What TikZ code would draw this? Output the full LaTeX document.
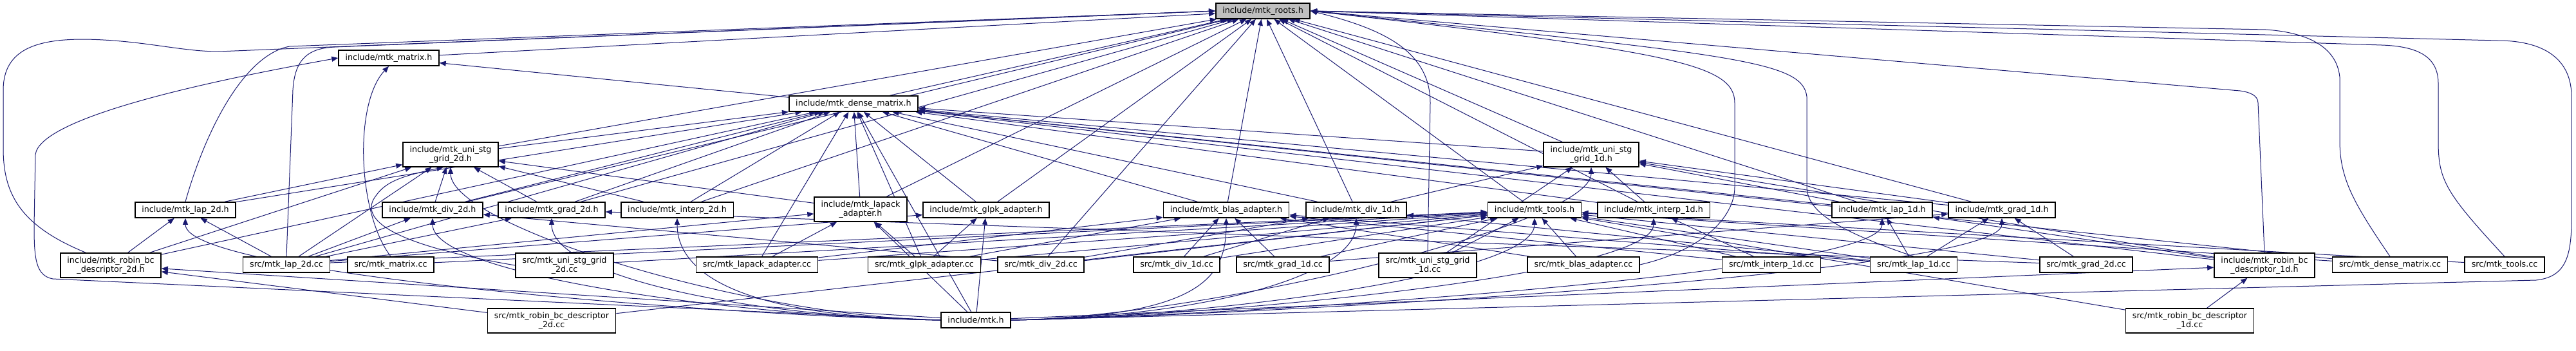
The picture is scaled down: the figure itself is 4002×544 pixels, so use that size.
\documentclass[tikz,border=0pt]{standalone}
\usepackage{fontspec}
\setmainfont{DejaVu Sans}
\usetikzlibrary{arrows.meta,backgrounds}
\definecolor{navy}{HTML}{191970}
\definecolor{rootgray}{HTML}{BFBFBF}

\begin{document}
\begin{tikzpicture}[
  x=1pt, y=-1pt,
  font=\fontsize{12.7}{14.5}\selectfont,
  >={Triangle[length=10pt,width=8pt]},
  file/.style={draw=black, fill=white, line width=1.6pt, inner xsep=10.5pt,
               inner ysep=0pt, minimum height=24pt, align=center},
  file2/.style={file, minimum height=38pt},
  rootfile/.style={file, fill=rootgray},
  dep/.style={->, draw=navy, line width=1pt},
]
\useasboundingbox (0,0) rectangle (4002,544);

% top of the graph
\node[rootfile] (roots) at (1962,17) {include/mtk\_roots.h};
\node[file] (matrix) at (604,90) {include/mtk\_matrix.h};
\node[file] (dense) at (1326,161) {include/mtk\_dense\_matrix.h};
\node[file2] (usg2d) at (700,240) {include/mtk\_uni\_stg\\\_grid\_2d.h};
\node[file2] (usg1d) at (2472,240) {include/mtk\_uni\_stg\\\_grid\_1d.h};

% header row
\node[file] (lap2dh) at (288,326) {include/mtk\_lap\_2d.h};
\node[file] (div2dh) at (672,326) {include/mtk\_div\_2d.h};
\node[file] (grad2dh) at (857,326) {include/mtk\_grad\_2d.h};
\node[file] (interp2dh) at (1052,326) {include/mtk\_interp\_2d.h};
\node[file2] (lapackh) at (1337,325) {include/mtk\_lapack\\\_adapter.h};
\node[file] (glpkh) at (1532,326) {include/mtk\_glpk\_adapter.h};
\node[file] (blash) at (1905,326) {include/mtk\_blas\_adapter.h};
\node[file] (div1dh) at (2107,326) {include/mtk\_div\_1d.h};
\node[file] (toolsh) at (2384,326) {include/mtk\_tools.h};
\node[file] (interp1dh) at (2569,326) {include/mtk\_interp\_1d.h};
\node[file] (lap1dh) at (2924,326) {include/mtk\_lap\_1d.h};
\node[file] (grad1dh) at (3110,326) {include/mtk\_grad\_1d.h};

% source row
\node[file2] (rb2dh) at (172,412) {include/mtk\_robin\_bc\\\_descriptor\_2d.h};
\node[file] (lap2dcc) at (445,411) {src/mtk\_lap\_2d.cc};
\node[file] (matrixcc) at (607,411) {src/mtk\_matrix.cc};
\node[file2] (usg2dcc) at (877,412) {src/mtk\_uni\_stg\_grid\\\_2d.cc};
\node[file] (lapackcc) at (1176,411) {src/mtk\_lapack\_adapter.cc};
\node[file] (glpkcc) at (1436,411) {src/mtk\_glpk\_adapter.cc};
\node[file] (div2dcc) at (1617,411) {src/mtk\_div\_2d.cc};
\node[file] (div1dcc) at (1828,411) {src/mtk\_div\_1d.cc};
\node[file] (grad1dcc) at (1993,411) {src/mtk\_grad\_1d.cc};
\node[file2] (usg1dcc) at (2218,412) {src/mtk\_uni\_stg\_grid\\\_1d.cc};
\node[file] (blascc) at (2460,411) {src/mtk\_blas\_adapter.cc};
\node[file] (interp1dcc) at (2752,411) {src/mtk\_interp\_1d.cc};
\node[file] (lap1dcc) at (2973,411) {src/mtk\_lap\_1d.cc};
\node[file] (grad2dcc) at (3241,411) {src/mtk\_grad\_2d.cc};
\node[file2] (rb1dh) at (3518,412) {include/mtk\_robin\_bc\\\_descriptor\_1d.h};
\node[file] (densecc) at (3713,411) {src/mtk\_dense\_matrix.cc};
\node[file] (toolscc) at (3891,411) {src/mtk\_tools.cc};

% bottom row
\node[file2] (rb2dcc) at (857,498) {src/mtk\_robin\_bc\_descriptor\\\_2d.cc};
\node[file] (mtkh) at (1516,497) {include/mtk.h};
\node[file2] (rb1dcc) at (3402,498) {src/mtk\_robin\_bc\_descriptor\\\_1d.cc};

\begin{scope}[on background layer]
% headers
\foreach \a in {matrix,dense,usg2d,usg1d,div2dh,grad2dh,interp2dh,lapackh,
                glpkh,blash,div1dh,toolsh,interp1dh,lap1dh,grad1dh,div2dcc}
  \draw[dep] (\a) -- (roots);
\foreach \a in {usg2d,usg1d,lap2dh,div2dh,grad2dh,interp2dh,lapackh,glpkh,
                blash,div1dh,interp1dh,lap1dh,grad1dh,rb2dh,rb1dh,
                lap2dcc,lapackcc,densecc,glpkcc}
  \draw[dep] (\a) -- (dense);
\draw[dep] (dense) -- (matrix);
\foreach \a in {lap2dh,div2dh,grad2dh,interp2dh,lapackh,rb2dh,lap2dcc}
  \draw[dep] (\a) -- (usg2d);
\foreach \a in {div1dh,interp1dh,lap1dh,grad1dh,rb1dh}
  \draw[dep] (\a) -- (usg1d);

% sources
\foreach \a/\b in {rb2dh/lap2dh, lap2dcc/lap2dh, lap2dcc/div2dh,
                   lap2dcc/grad2dh, lap2dcc/lapackh, lap2dcc/glpkh,
                   lapackcc/lapackh, lapackcc/blash, glpkcc/glpkh,
                   glpkcc/lapackh, glpkcc/blash, div2dcc/div2dh,
                   div2dcc/div1dh, div1dcc/div1dh, div1dcc/blash,
                   grad1dcc/grad1dh, grad1dcc/blash, blascc/blash,
                   interp1dcc/interp1dh, interp1dcc/blash, lap1dcc/lap1dh,
                   lap1dcc/grad1dh, lap1dcc/div1dh, lap1dcc/blash,
                   grad2dcc/grad2dh, grad2dcc/grad1dh, rb1dh/lap1dh,
                   rb1dcc/rb1dh, rb2dcc/rb2dh, usg1dcc/usg1d}
  \draw[dep] (\a) -- (\b);
\foreach \a in {lap2dcc,matrixcc,usg2dcc,lapackcc,glpkcc,div2dcc,div1dcc,
                grad1dcc,usg1dcc,blascc,interp1dcc,lap1dcc,grad2dcc,
                rb1dcc,densecc,toolscc,rb2dcc}
  \draw[dep] (\a) -- (toolsh);

% mtk.h
\foreach \b in {rb2dh,lapackh,glpkh,dense,rb1dh}
  \draw[dep] (mtkh) -- (\b);
\foreach \b in {lap2dh,div2dh,grad2dh,interp2dh,usg2d}
  \draw[dep] (mtkh.west) .. controls +(-300,-5) and +(0,90) .. (\b.south);
\foreach \b in {blash,div1dh,toolsh,interp1dh,lap1dh,grad1dh,usg1d}
  \draw[dep] (mtkh.east) .. controls +(300,-5) and +(0,90) .. (\b.south);

% long routes
\draw[dep] ([xshift=40pt]rb2dh.north west) .. controls (30,350) and (5,300) .. (5,230)
  -- (5,140) .. controls (5,75) and (60,61) .. (130,61)
  .. controls (220,62) and (280,80) .. (340,80) -- (roots.west);
\draw[dep] (mtkh.west) -- (82,433) .. controls (55,428) and (53,400) .. (53,350)
  -- (55,240) .. controls (62,185) and (300,130) .. (matrix.west);
\draw[dep] (lap2dh.north) .. controls (320,200) and (380,85) .. (450,72) -- (roots.west);
\draw[dep] (lap2dcc.north) -- (455,140) .. controls (458,90) and (480,75) .. (520,73)
  -- (roots.west);
\draw[dep] (matrixcc.north) .. controls (555,330) and (550,160) .. (matrix.south);
\draw[dep] (usg2dcc.west) .. controls (640,385) and (560,350) .. (580,310)
  .. controls (595,285) and (615,275) .. (usg2d.240);
\draw[dep] (usg1dcc.north) -- (2222,160) .. controls (2222,80) and (2150,45) .. (roots.east);
\draw[dep] (blascc.east) .. controls (2640,390) and (2695,340) .. (2695,290)
  -- (2695,160) .. controls (2695,100) and (2600,80) .. (roots.east);
\draw[dep] (lap1dcc.north) .. controls (2860,360) and (2807,330) .. (2807,290)
  -- (2807,150) .. controls (2800,95) and (2700,85) .. (roots.east);
\draw[dep] (rb1dh.north) -- (3508,160) .. controls (3508,148) and (3495,143) .. (3480,141)
  -- (roots.east);
\draw[dep] (densecc.north) .. controls (3660,320) and (3635,280) .. (3635,220)
  -- (3635,120) .. controls (3630,70) and (3580,50) .. (3520,46) -- (roots.east);
\draw[dep] (toolscc.north) .. controls (3800,300) and (3788,280) .. (3788,220)
  -- (3788,130) .. controls (3788,90) and (3760,72) .. (3700,70) -- (roots.east);
\draw[dep] (mtkh.east) -- (3940,435) .. controls (3985,430) and (3995,400) .. (3995,340)
  -- (3995,150) .. controls (3995,90) and (3950,63) .. (3880,63) -- (roots.east);
\end{scope}
\end{tikzpicture}
\end{document}
